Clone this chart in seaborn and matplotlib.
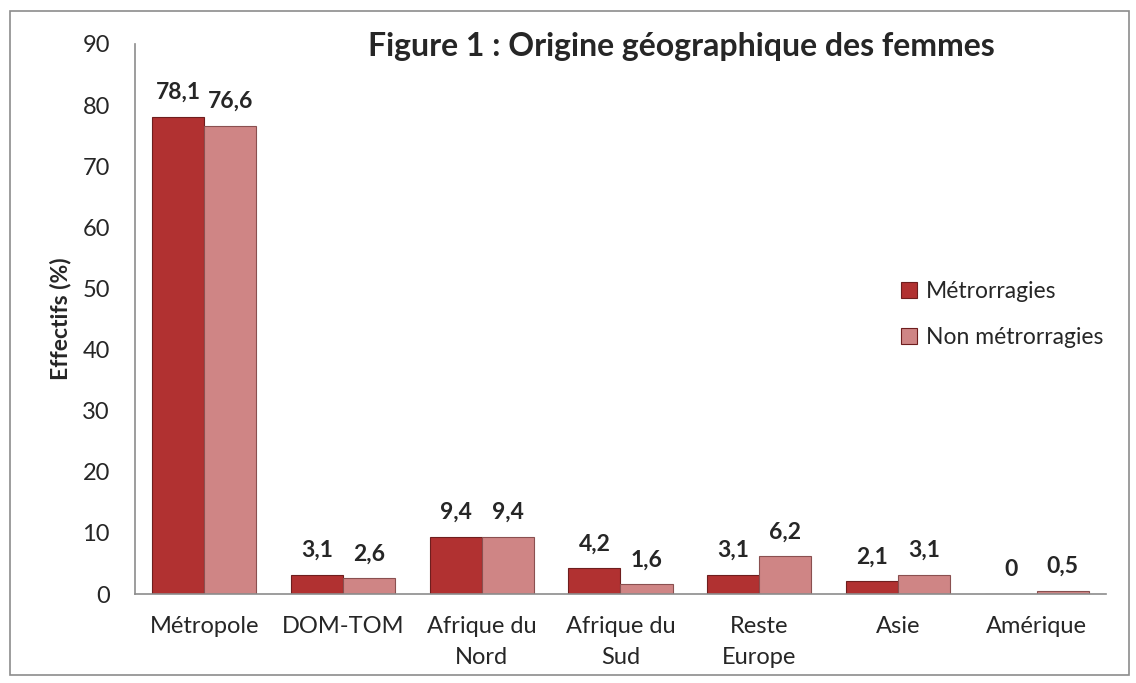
import pandas as pd
import matplotlib.pyplot as plt
import seaborn as sns
from matplotlib.patches import Rectangle

# values
categories = ['Métropole', 'DOM-TOM', 'Afrique du\nNord', 'Afrique du\nSud',
              'Reste\nEurope', 'Asie', 'Amérique']
metrorragies = [78.1, 3.1, 9.4, 4.2, 3.1, 2.1, 0]
non_metrorragies = [76.6, 2.6, 9.4, 1.6, 6.2, 3.1, 0.5]
groups = ['Métrorragies', 'Non métrorragies']
colors = ['#B13131', '#CF8585']


def main():
    df = pd.DataFrame({
        'origine': categories * 2,
        'groupe': [groups[0]] * len(categories) + [groups[1]] * len(categories),
        'valeur': metrorragies + non_metrorragies,
    })

    sns.set_style('white')
    plt.rcParams['font.family'] = ['Lato', 'DejaVu Sans']

    fig = plt.figure(figsize=(11.36, 6.83), dpi=100)
    ax = fig.add_axes([0.1188, 0.1303, 0.8548, 0.8053])

    sns.barplot(data=df, x='origine', y='valeur', hue='groupe', palette=colors,
                saturation=1, width=0.75, gap=0, edgecolor='#6E1E1E', linewidth=0.8, ax=ax)

    # darker edge on the light series
    for bar in ax.containers[1]:
        bar.set_edgecolor('#8A5050')

    for cont in ax.containers:
        ax.bar_label(cont, labels=[f'{v:g}'.replace('.', ',') for v in cont.datavalues],
                     padding=10, fontsize=16.5, fontweight='bold')

    ax.set_ylim(0, 90)
    ax.set_yticks(range(0, 91, 10))
    ax.set_xlim(-0.5, len(categories) - 0.5)
    ax.tick_params(axis='y', labelsize=17, pad=18, length=0)
    ax.tick_params(axis='x', labelsize=17, pad=16, length=0)
    for lab in ax.get_xticklabels():
        lab.set_linespacing(1.6)
    ax.set_xlabel('')
    ax.set_ylabel('Effectifs (%)', fontsize=16.5, fontweight='bold', labelpad=8)

    for side in ['top', 'right']:
        ax.spines[side].set_visible(False)
    for side in ['left', 'bottom']:
        ax.spines[side].set_color('#8C8C8C')
        ax.spines[side].set_linewidth(1.2)

    fig.text(0.6, 0.932, 'Figure 1 : Origine géographique des femmes',
             ha='center', va='center', fontsize=23, fontweight='bold')

    ax.legend(loc='center left', bbox_to_anchor=(0.775, 0.54), bbox_transform=fig.transFigure,
              frameon=False, fontsize=16.5, labelspacing=1.1, handlelength=0.7,
              handleheight=0.7, handletextpad=0.4)

    # outer frame of the chart
    fig.patches.append(Rectangle((0.009, 0.011), 0.985, 0.973, transform=fig.transFigure,
                                 fill=False, edgecolor='#8C8C8C', linewidth=1.2))

    fig.savefig('out.png', dpi=100)


if __name__ == "__main__":
    main()
